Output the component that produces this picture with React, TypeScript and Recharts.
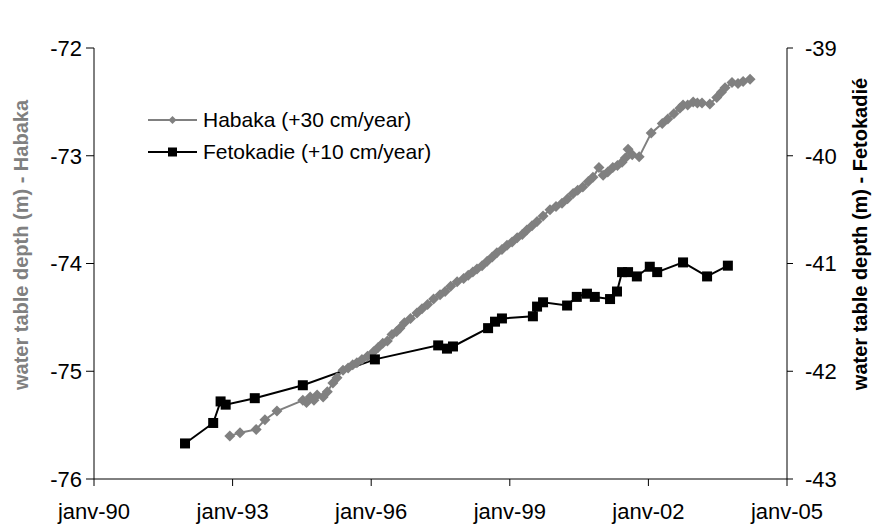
import React from 'react';
import { ComposedChart, Line, XAxis, YAxis } from 'recharts';

// Habaka piezometer (left axis), decimal years
const habakaYears = [
  1992.94, 1993.16, 1993.51, 1993.7, 1993.96, 1994.52, 1994.6, 1994.68, 1994.76, 1994.83,
  1994.96, 1995.05, 1995.17, 1995.26, 1995.39, 1995.5, 1995.6, 1995.69, 1995.8, 1995.92,
  1996.05, 1996.15, 1996.25, 1996.35, 1996.45, 1996.55, 1996.62, 1996.72, 1996.85, 1996.99,
  1997.1, 1997.22, 1997.35, 1997.49, 1997.6, 1997.72, 1997.86, 1998.0, 1998.1, 1998.2,
  1998.29, 1998.4, 1998.51, 1998.62, 1998.72, 1998.83, 1998.94, 1999.05, 1999.16, 1999.27,
  1999.37, 1999.48, 1999.59, 1999.72, 1999.87, 2000.0, 2000.13, 2000.25, 2000.37, 2000.47,
  2000.58, 2000.7, 2000.8, 2000.93, 2001.02, 2001.12, 2001.23, 2001.33, 2001.43, 2001.5,
  2001.56, 2001.65, 2001.8, 2002.06, 2002.3, 2002.42, 2002.55, 2002.68, 2002.75, 2002.85,
  2002.97, 2003.06, 2003.16, 2003.33, 2003.48, 2003.58, 2003.66, 2003.81, 2003.94, 2004.05,
  2004.2,
];
const habakaDepth = [
  -75.6, -75.57, -75.54, -75.45, -75.37, -75.27, -75.29, -75.24, -75.27, -75.22,
  -75.24, -75.19, -75.11, -75.06, -74.99, -74.97, -74.94, -74.92, -74.89, -74.86,
  -74.82, -74.78, -74.74, -74.72, -74.66, -74.63, -74.6, -74.55, -74.51, -74.46,
  -74.42, -74.38, -74.33, -74.29, -74.26, -74.21, -74.17, -74.14, -74.11, -74.08,
  -74.05, -74.02, -73.98, -73.94, -73.9, -73.87, -73.83, -73.8, -73.76, -73.73,
  -73.69, -73.65, -73.61, -73.56, -73.5, -73.47, -73.44, -73.4, -73.35, -73.32,
  -73.29, -73.24, -73.2, -73.11, -73.18, -73.15, -73.11, -73.09, -73.06, -73.02,
  -72.94, -72.99, -73.01, -72.79, -72.7, -72.66, -72.61, -72.56, -72.53, -72.53,
  -72.5, -72.51, -72.51, -72.52, -72.46, -72.41, -72.37, -72.32, -72.33, -72.31,
  -72.29,
];

// Fetokadie piezometer (right axis)
const fetoYears = [
  1991.97, 1992.58, 1992.74, 1992.85, 1993.48, 1994.52, 1996.08, 1997.45, 1997.64, 1997.77,
  1998.53, 1998.68, 1998.83, 1999.5, 1999.59, 1999.72, 2000.24, 2000.45, 2000.67, 2000.84,
  2001.17, 2001.32, 2001.43, 2001.56, 2001.75, 2002.03, 2002.19, 2002.75, 2003.27, 2003.72,
];
const fetoDepth = [
  -42.67, -42.48, -42.28, -42.31, -42.25, -42.13, -41.89, -41.76, -41.79, -41.77,
  -41.6, -41.54, -41.51, -41.49, -41.4, -41.36, -41.39, -41.31, -41.28, -41.31,
  -41.33, -41.26, -41.08, -41.08, -41.12, -41.03, -41.08, -40.99, -41.12, -41.02,
];

const xTicks = [1990, 1993, 1996, 1999, 2002, 2005];
const leftTicks = [-76, -75, -74, -73, -72];
const rightTicks = [-43, -42, -41, -40, -39];

const habakaData = habakaYears.map((t, i) => ({ t, depth: habakaDepth[i] }));
const fetoData = fetoYears.map((t, i) => ({ t, depth: fetoDepth[i] }));

const GREY = '#808080';
const FONT = '"Liberation Sans", Arial, sans-serif';

const Diamond = (props: any) => {
  const { cx, cy, index } = props;
  if (cx == null || cy == null) return null;
  const r = 5.5;
  return (
    <polygon
      key={`h-${index}`}
      points={`${cx},${cy - r} ${cx + r},${cy} ${cx},${cy + r} ${cx - r},${cy}`}
      fill={GREY}
    />
  );
};

const Square = (props: any) => {
  const { cx, cy, index } = props;
  if (cx == null || cy == null) return null;
  return <rect key={`f-${index}`} x={cx - 5} y={cy - 5} width={10} height={10} fill="#000" />;
};

const yearLabel = (v: number) => 'janv-' + String(v % 100).padStart(2, '0');

// legend drawn as an overlay inside the plot area
const LegendBox = () => (
  <div style={{ position: 'absolute', left: 148, top: 104, fontFamily: FONT, fontSize: 21, color: '#000' }}>
    <div style={{ display: 'flex', alignItems: 'center', height: 32 }}>
      <svg width={55} height={12}>
        <line x1={0} y1={6} x2={49} y2={6} stroke={GREY} strokeWidth={2} />
        <polygon points="24.5,2 28.5,6 24.5,10 20.5,6" fill={GREY} />
      </svg>
      <span>Habaka (+30 cm/year)</span>
    </div>
    <div style={{ display: 'flex', alignItems: 'center', height: 32 }}>
      <svg width={55} height={12}>
        <line x1={0} y1={6} x2={49} y2={6} stroke="#000" strokeWidth={2} />
        <rect x={20} y={1.5} width={9} height={9} fill="#000" />
      </svg>
      <span>Fetokadie (+10 cm/year)</span>
    </div>
  </div>
);

const tickStyle = { fontSize: 22, fill: '#000', fontFamily: FONT };

export default function App() {
  return (
    <div style={{ position: 'absolute', left: 0, top: 0, width: 873, height: 524, background: '#fff' }}>
      <ComposedChart width={873} height={524} margin={{ top: 48, right: 0, bottom: 0, left: 0 }}>
        <XAxis
          type="number"
          dataKey="t"
          domain={[1990, 2005]}
          ticks={xTicks}
          tickFormatter={yearLabel}
          allowDataOverflow
          height={45}
          tickSize={7}
          tickMargin={17}
          stroke="#000"
          tick={tickStyle}
        />
        <YAxis
          yAxisId="left"
          orientation="left"
          domain={[-76, -72]}
          ticks={leftTicks}
          allowDataOverflow
          width={94}
          tickSize={8}
          tickMargin={4}
          stroke="#000"
          tick={tickStyle}
          label={{
            content: () => (
              <text
                x={21}
                y={245}
                transform="rotate(-90 21 245)"
                textAnchor="middle"
                dominantBaseline="central"
                fill={GREY}
                fontWeight="bold"
                fontSize={20}
                fontFamily={FONT}
              >
                water table depth (m) - Habaka
              </text>
            ),
          }}
        />
        <YAxis
          yAxisId="right"
          orientation="right"
          domain={[-43, -39]}
          ticks={rightTicks}
          allowDataOverflow
          width={86}
          tickSize={6}
          tickMargin={12}
          stroke="#000"
          tick={tickStyle}
          label={{
            content: () => (
              <text
                x={860}
                y={234}
                transform="rotate(-90 860 234)"
                textAnchor="middle"
                dominantBaseline="central"
                fill="#000"
                fontWeight="bold"
                fontSize={20}
                fontFamily={FONT}
              >
                water table depth (m) - Fetokadié
              </text>
            ),
          }}
        />
        <Line
          yAxisId="left"
          data={habakaData}
          dataKey="depth"
          name="Habaka (+30 cm/year)"
          stroke={GREY}
          strokeWidth={2}
          dot={Diamond}
          activeDot={false}
          isAnimationActive={false}
        />
        <Line
          yAxisId="right"
          data={fetoData}
          dataKey="depth"
          name="Fetokadie (+10 cm/year)"
          stroke="#000"
          strokeWidth={2}
          dot={Square}
          activeDot={false}
          isAnimationActive={false}
        />
      </ComposedChart>
      <LegendBox />
    </div>
  );
}
